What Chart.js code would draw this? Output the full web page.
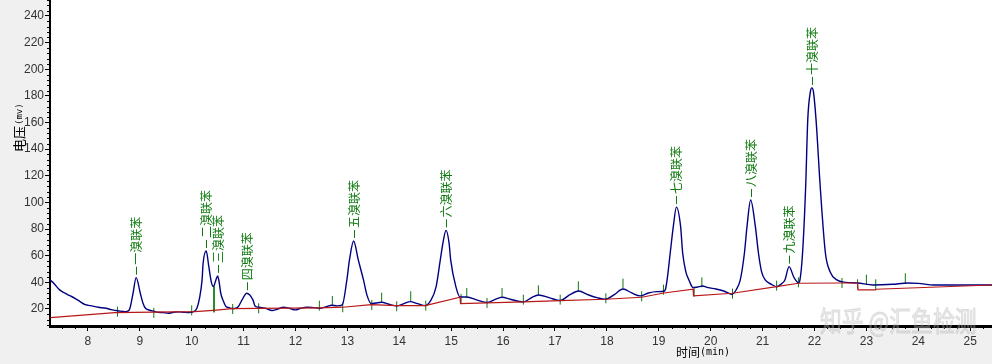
<!DOCTYPE html>
<html>
<head>
<meta charset="utf-8">
<script src="https://cdn.jsdelivr.net/npm/chart.js@4/dist/chart.umd.min.js"></script>
<style>
  html, body { margin: 0; padding: 0; background: #f0f0f0; }
  #chart { display: block; }
</style>
</head>
<body>
<canvas id="chart" width="992" height="364"></canvas>
<script>
// --- chromatogram signal (time in min, voltage in mV) ---
const signalTime = [
  7.28, 7.35, 7.45, 7.55, 7.65, 7.75, 7.85, 7.95, 8.05, 8.2, 8.35, 8.45, 8.6, 8.72,
  8.78, 8.81, 8.87, 8.93, 9.01, 9.06, 9.11, 9.18, 9.27, 9.35, 9.45, 9.55, 9.65, 9.74, 9.85, 9.95,
  10.06, 10.1, 10.15, 10.2, 10.22, 10.28, 10.33, 10.38, 10.42, 10.46, 10.5, 10.53, 10.56, 10.61, 10.66, 10.72, 10.78,
  10.85, 10.9, 10.97, 11.06, 11.18, 11.22, 11.3, 11.42, 11.55, 11.66, 11.77, 11.88, 12.0, 12.1, 12.22, 12.34, 12.46,
  12.58, 12.7, 12.8, 12.9, 12.99, 13.04, 13.12, 13.21, 13.31, 13.38, 13.46, 13.55, 13.66, 13.8, 13.95, 14.08, 14.21,
  14.35, 14.5, 14.6, 14.71, 14.79, 14.84, 14.9, 14.96, 14.99, 15.09, 15.17, 15.3, 15.49, 15.69, 15.84, 15.98, 16.14,
  16.39, 16.55, 16.68, 16.9, 17.1, 17.28, 17.45, 17.65, 17.81, 17.97, 18.15, 18.31, 18.48, 18.64, 18.8, 18.96,
  19.1, 19.13, 19.16, 19.22, 19.28, 19.34, 19.42, 19.46, 19.52, 19.58, 19.66, 19.75, 19.84, 19.95, 20.1, 20.25, 20.41,
  20.5, 20.57, 20.65, 20.7, 20.77, 20.86, 20.92, 20.98, 21.05, 21.17, 21.27, 21.35, 21.43, 21.51, 21.6, 21.66, 21.69,
  21.72, 21.77, 21.83, 21.87, 21.92, 21.95, 21.98, 22.03, 22.11, 22.21, 22.3, 22.43, 22.6, 22.83, 23.13, 23.5, 23.8,
  24.0, 24.3, 25.0, 25.42
];
const signalValue = [
  41.5, 39, 34.5, 32, 30, 28, 25.5, 23.2, 22.5, 21.3, 20.5, 19.5, 18.5, 18,
  18.5, 20.5, 31.8, 43.5, 31.8, 24.5, 20.5, 19.2, 18.3, 17.5, 17.3, 16.8, 17.5, 17.8, 17.5, 17.3,
  18.5, 20.5, 28, 41.8, 54.3, 63.5, 51.8, 40, 36.8, 41, 44.8, 40, 31.8, 26, 21.8, 21, 20.3,
  20.5, 21.8, 26.8, 31.8, 26.8, 22.3, 21.3, 20.5, 18.8, 20, 21.3, 20.5, 19.3, 20.5, 21.3, 21, 20.5,
  21.5, 22.8, 22.3, 23, 41.8, 56.8, 71, 56.8, 41.8, 30, 24, 24.5, 25, 23.5, 22.3, 23.8, 25.5,
  24, 22.5, 26, 36.8, 56.8, 69.3, 79, 69.3, 56.8, 36.8, 29, 29, 26.8, 24.8, 27, 28.8, 27.3,
  25.3, 28.5, 30.5, 28.3, 26.3, 30.5, 33.5, 30.5, 28.5, 27.3, 31, 35, 32, 29.8, 32, 33,
  33.3, 35, 41.8, 62, 82, 96.5, 82, 62, 48, 41.8, 36, 36.5, 37.2, 36, 35, 33.5, 31,
  35, 41.8, 62, 82, 101.8, 82, 62, 48, 41.8, 38.5, 36.7, 38.5, 41.8, 51.8, 44, 40.5, 39.5,
  41.8, 62, 112, 162, 183, 186, 183, 162, 112, 62, 48, 41.8, 40, 39.5, 38, 38.5, 39.5,
  39.2, 38, 38, 38
];

// --- integration baseline (red) ---
const baseTime = [
  7.28, 8.52, 9.27, 10.06, 10.42, 10.78, 11.3, 12.46, 12.91, 13.46, 13.95, 14.5, 15.17, 15.18, 16.39, 17.1,
  17.97, 18.67, 19.1, 19.66, 19.67, 20.42, 21.27, 21.69, 22.53, 22.83, 22.84, 23.18, 23.19, 25.42
];
const baseValue = [
  13.5, 17.3, 17.6, 18, 19, 20.3, 20.5, 20.8, 21.3, 23.3, 22.5, 22.5, 28.8, 24, 25.3, 26.3,
  27.3, 28.8, 32, 34.8, 29.8, 31.8, 36.7, 39.3, 39.5, 39.5, 34.3, 34.3, 34.8, 38
];

// --- peak start/end markers (green) ---
const markTime = [
  8.57, 9.27, 10.0, 10.79, 11.29, 12.46, 12.71, 12.91, 13.47, 13.66, 13.95, 14.22, 14.51, 15.19, 15.3, 15.69,
  15.98, 16.39, 16.68, 17.1, 17.45, 17.98, 18.31, 18.67, 19.09, 19.68, 19.83, 20.42, 21.27, 21.69, 22.53,
  22.83, 23.0, 23.18, 23.75
];
const markValue = [
  18, 17, 19, 20, 20.5, 22.5, 26, 21.3, 23, 28.5, 22, 29.5, 22.5, 27.5, 32, 24.5,
  32, 27, 34, 27, 37, 28, 39, 29.5, 34.5, 33, 40, 31.5, 37.5, 40, 39.5,
  38.5, 42, 38.5, 43
];

// valley drop line between 二 and 三
const dropTime = [10.43, 10.43];
const dropValue = [37, 17.5];

// --- peak labels ---
const peakNames = ['一溴联苯', '二溴联苯', '三溴联苯', '四溴联苯', '五溴联苯', '六溴联苯', '七溴联苯', '八溴联苯', '九溴联苯', '十溴联苯'];
const peakTime = [8.93, 10.28, 10.5, 11.06, 13.12, 14.9, 19.34, 20.77, 21.51, 21.95];
const peakValue = [43.5, 63.5, 44.8, 31.8, 71, 79, 96.5, 101.8, 51.8, 186];

// --- axis ticks ---
const xTicks = [8, 9, 10, 11, 12, 13, 14, 15, 16, 17, 18, 19, 20, 21, 22, 23, 24, 25];
const yTicks = [20, 40, 60, 80, 100, 120, 140, 160, 180, 200, 220, 240];

const pts = (xs, ys) => xs.map((x, i) => ({ x: x, y: ys[i] }));

const GREEN = '#0f7a0f';

// background, minor ticks, labels, axis titles
const chromPlugin = {
  id: 'chrom',
  beforeDraw(chart) {
    const { ctx, chartArea: a } = chart;
    ctx.save();
    ctx.fillStyle = '#f0f0f0';
    ctx.fillRect(0, 0, chart.width, chart.height);
    ctx.fillStyle = '#ffffff';
    ctx.fillRect(a.left, a.top, a.right - a.left, a.bottom - a.top);
    ctx.restore();
  },
  afterDraw(chart) {
    const { ctx, chartArea: a, scales: { x, y } } = chart;
    ctx.save();

    // minor ticks
    ctx.strokeStyle = '#000';
    ctx.lineWidth = 1;
    ctx.beginPath();
    for (let t = 7.5; t <= 25.42; t += 0.25) {
      if (Math.abs(t - Math.round(t)) < 0.01) continue;
      const px = Math.round(x.getPixelForValue(t)) + 0.5;
      ctx.moveTo(px, a.bottom);
      ctx.lineTo(px, a.bottom + 3);
    }
    for (let v = 8; v <= 252; v += 4) {
      if (v % 20 === 0) continue;
      const py = Math.round(y.getPixelForValue(v)) + 0.5;
      ctx.moveTo(a.left - 3, py);
      ctx.lineTo(a.left, py);
    }
    ctx.stroke();

    // peak leaders and names
    ctx.strokeStyle = GREEN;
    ctx.fillStyle = GREEN;
    ctx.font = '12px "Noto Sans CJK SC"';
    ctx.textBaseline = 'middle';
    ctx.textAlign = 'left';
    peakNames.forEach((name, i) => {
      const px = Math.round(x.getPixelForValue(peakTime[i])) + 0.5;
      const py = y.getPixelForValue(peakValue[i]);
      ctx.beginPath();
      ctx.moveTo(px, py - 3);
      ctx.lineTo(px, py - 11);
      ctx.stroke();
      ctx.save();
      ctx.translate(px, py - 13);
      ctx.rotate(-Math.PI / 2);
      ctx.fillText(name, 0, 0);
      ctx.restore();
    });

    // axis titles
    ctx.fillStyle = '#000';
    ctx.save();
    ctx.translate(19, 152);
    ctx.rotate(-Math.PI / 2);
    ctx.textAlign = 'left';
    ctx.font = '13px "Noto Sans CJK SC"';
    ctx.fillText('电压', 0, 0);
    const w1 = ctx.measureText('电压').width;
    ctx.font = '9px "DejaVu Sans Mono"';
    ctx.fillText('(mv)', w1 + 1, 1);
    ctx.restore();

    ctx.textAlign = 'left';
    ctx.font = '12px "Noto Sans CJK SC"';
    ctx.fillText('时间', 676, 352);
    const w2 = ctx.measureText('时间').width;
    ctx.font = '10px "DejaVu Sans Mono"';
    ctx.fillText('(min)', 676 + w2, 352);

    // watermark
    ctx.save();
    ctx.translate(820, 321);
    ctx.scale(0.78, 1);
    ctx.font = '28px "Noto Sans CJK SC"';
    ctx.fillStyle = 'rgba(200,200,200,0.3)';
    ctx.strokeStyle = 'rgba(170,170,170,0.35)';
    ctx.lineWidth = 1;
    ctx.fillText('知乎 @汇鱼检测', 0, 0);
    ctx.strokeText('知乎 @汇鱼检测', 0, 0);
    ctx.restore();

    ctx.restore();
  }
};

const noPad = s => { s.paddingTop = 0; s.paddingBottom = 0; s.paddingLeft = 0; s.paddingRight = 0; };

new Chart(document.getElementById('chart'), {
  type: 'line',
  data: {
    datasets: [
      {
        data: pts(baseTime, baseValue),
        borderColor: '#b81818',
        borderWidth: 1.2,
        pointRadius: 0,
        tension: 0
      },
      {
        data: pts(signalTime, signalValue),
        borderColor: '#000080',
        borderWidth: 1.4,
        pointRadius: 0,
        cubicInterpolationMode: 'monotone'
      },
      {
        data: pts(dropTime, dropValue),
        borderColor: GREEN,
        borderWidth: 1,
        pointRadius: 0
      },
      {
        data: pts(markTime, markValue),
        showLine: false,
        pointStyle: 'line',
        rotation: 90,
        pointRadius: 5,
        pointBorderColor: GREEN,
        pointBorderWidth: 1
      }
    ]
  },
  options: {
    responsive: false,
    animation: false,
    devicePixelRatio: 1,
    layout: { padding: 0, autoPadding: false },
    plugins: { legend: { display: false }, tooltip: { enabled: false } },
    scales: {
      x: {
        type: 'linear',
        min: 7.27,
        max: 25.42,
        afterBuildTicks: s => { s.ticks = xTicks.map(v => ({ value: v })); },
        afterFit: s => { s.height = 38; noPad(s); },
        grid: { drawOnChartArea: false, drawTicks: true, tickLength: 5, color: '#000' },
        border: { display: true, color: '#000', width: 3 },
        ticks: { color: '#333', padding: 3, font: { family: 'Liberation Sans', size: 12 }, maxRotation: 0 }
      },
      y: {
        type: 'linear',
        min: 7.2,
        max: 252,
        afterBuildTicks: s => { s.ticks = yTicks.map(v => ({ value: v })); },
        afterFit: s => { s.width = 50; noPad(s); },
        grid: { drawOnChartArea: false, drawTicks: true, tickLength: 5, color: '#000' },
        border: { display: true, color: '#000', width: 2 },
        ticks: { color: '#333', padding: 1, font: { family: 'Liberation Sans', size: 12 } }
      }
    }
  },
  plugins: [chromPlugin]
});
</script>
</body>
</html>
